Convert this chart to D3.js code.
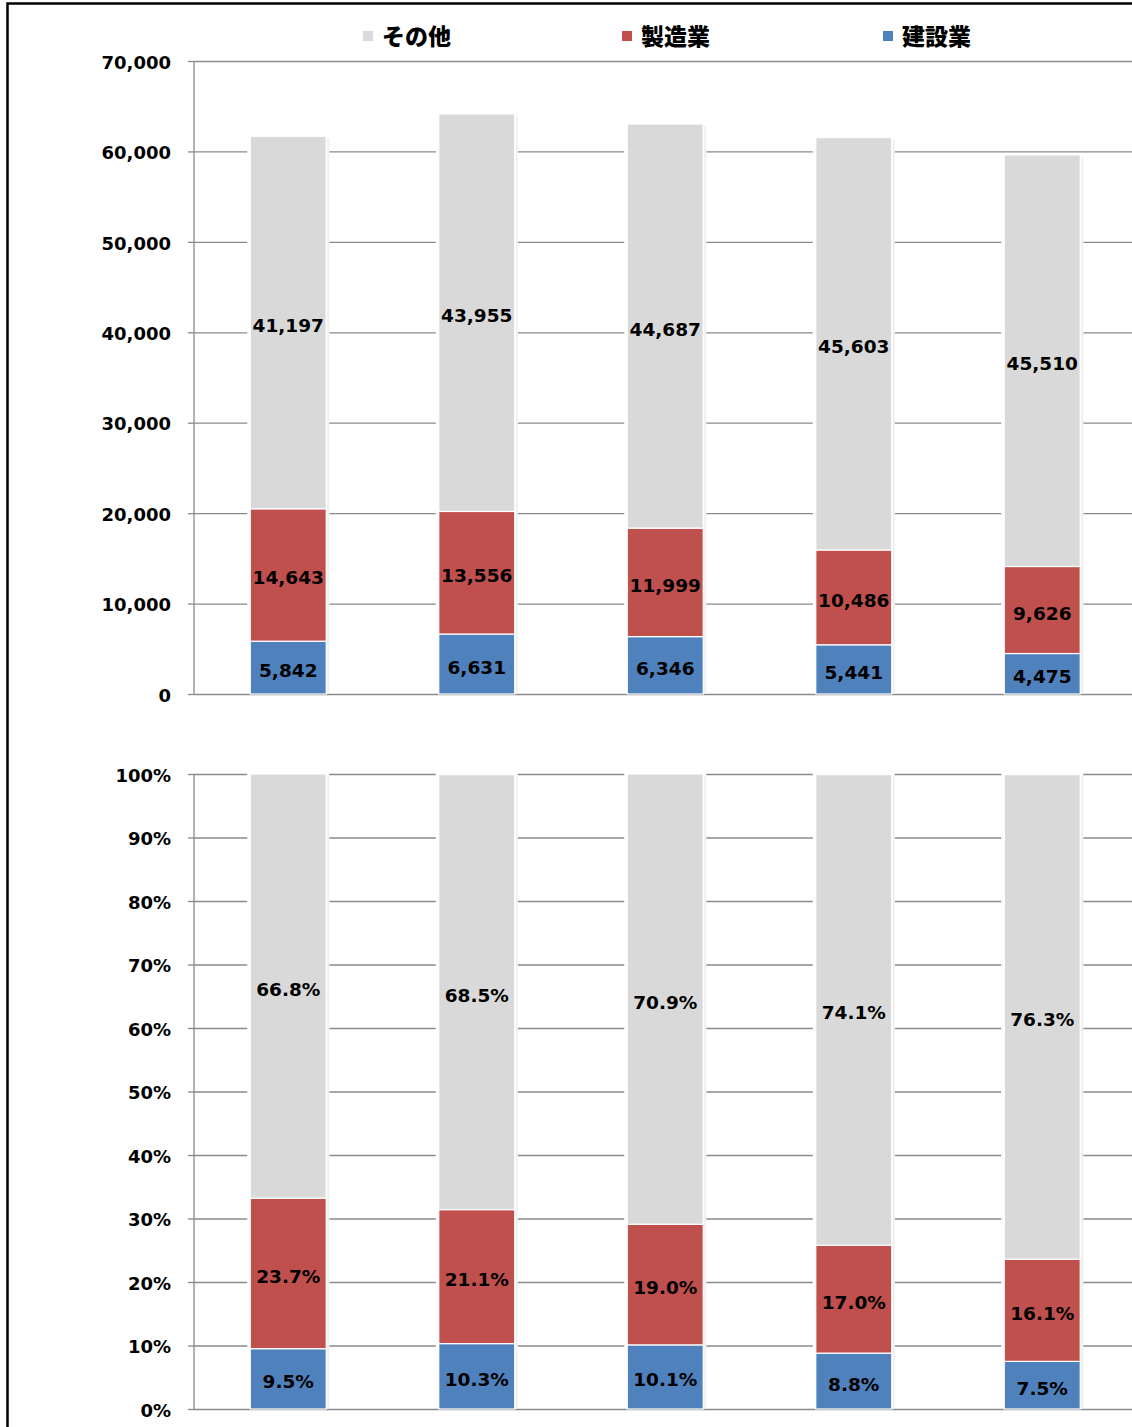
<!DOCTYPE html>
<html>
<head>
<meta charset="utf-8">
<script src="https://cdn.jsdelivr.net/npm/d3@7"></script>
<style>
  html, body { margin: 0; padding: 0; background: #fff; }
  svg { display: block; }
</style>
</head>
<body>
<svg id="chart" width="1132" height="1427"></svg>
<script>
// Five periods (no category labels are drawn on the axis)
const periods = ["1", "2", "3", "4", "5"];

// Counts by industry
const construction = [5842, 6631, 6346, 5441, 4475];      // 建設業
const manufacturing = [14643, 13556, 11999, 10486, 9626];  // 製造業
const others = [41197, 43955, 44687, 45603, 45510];        // その他

// Shares by industry (%)
const constructionPct = [9.5, 10.3, 10.1, 8.8, 7.5];
const manufacturingPct = [23.7, 21.1, 19.0, 17.0, 16.1];
const othersPct = [66.8, 68.5, 70.9, 74.1, 76.3];

// Tick values
const countTicks = [0, 10000, 20000, 30000, 40000, 50000, 60000, 70000];
const pctTicks = [0, 10, 20, 30, 40, 50, 60, 70, 80, 90, 100];

const seriesNames = ["その他", "製造業", "建設業"];
const colors = { "建設業": "#4f81bd", "製造業": "#c0504d", "その他": "#d9d9d9" };

const svg = d3.select("#chart");
const numFont = "'DejaVu Sans', sans-serif";
const jpFont = "'Noto Sans CJK JP', sans-serif";

// outer frame
svg.append("rect")
  .attr("x", 7.5).attr("y", 3.5)
  .attr("width", 1400).attr("height", 1600)
  .attr("fill", "none").attr("stroke", "#000").attr("stroke-width", 2.5);

// legend
const legendX = { "その他": 363, "製造業": 622, "建設業": 883 };
const legend = svg.append("g");
seriesNames.forEach(name => {
  legend.append("rect")
    .attr("x", legendX[name]).attr("y", 31)
    .attr("width", 10).attr("height", 10)
    .attr("fill", colors[name]);
  legend.append("text")
    .attr("x", legendX[name] + 19).attr("y", 35)
    .attr("dominant-baseline", "central")
    .attr("font-family", jpFont).attr("font-weight", 900)
    .attr("font-size", 23).attr("fill", "#000")
    .text(name);
});

const x = d3.scaleBand()
  .domain(periods)
  .range([194, 1136.5])
  .paddingInner(0.597)
  .paddingOuter(0.2985);

function drawPanel(opts) {
  const { top, bottom, yDomain, ticks, fmt, layers, labelFmt } = opts;
  const y = d3.scaleLinear().domain(yDomain).range([bottom, top]);
  const g = svg.append("g");

  // gridlines with short outside tick marks
  g.append("g")
    .attr("transform", "translate(194,0)")
    .call(d3.axisLeft(y).tickValues(ticks).tickSize(-1000).tickSizeOuter(0).tickFormat(""))
    .call(a => a.select(".domain").remove())
    .call(a => a.selectAll(".tick line").attr("stroke", "#8a8a8a").attr("stroke-width", 1.3));
  g.append("g")
    .attr("transform", "translate(194,0)")
    .call(d3.axisLeft(y).tickValues(ticks).tickSize(6).tickPadding(17).tickFormat(fmt))
    .call(a => a.select(".domain").attr("stroke", "#8a8a8a").attr("stroke-width", 1.3)
      .attr("d", `M0,${top}V${bottom}`))
    .call(a => a.selectAll(".tick line").attr("stroke", "#8a8a8a").attr("stroke-width", 1.3))
    .call(a => a.selectAll(".tick text")
      .attr("font-family", numFont).attr("font-weight", "bold")
      .attr("font-size", 18).attr("fill", "#000").attr("dy", "0.4em"));

  // stack data
  const rows = periods.map((p, i) => ({
    period: p,
    "建設業": layers["建設業"][i],
    "製造業": layers["製造業"][i],
    "その他": layers["その他"][i]
  }));
  const stack = d3.stack().keys(["建設業", "製造業", "その他"])(rows);
  const bw = x.bandwidth();

  // soft backing behind each bar (breaks gridlines and gives a faint edge)
  const totals = rows.map(r => r["建設業"] + r["製造業"] + r["その他"]);
  g.append("g").selectAll("rect")
    .data(periods)
    .join("rect")
    .attr("x", d => x(d) - 3)
    .attr("y", (d, i) => y(totals[i]) - 2)
    .attr("width", bw + 6)
    .attr("height", (d, i) => bottom - y(totals[i]) + 1)
    .attr("fill", "#fff");
  g.append("g").selectAll("rect")
    .data(periods)
    .join("rect")
    .attr("x", d => x(d) + bw + 1)
    .attr("y", (d, i) => y(totals[i]) + 2)
    .attr("width", 2)
    .attr("height", (d, i) => bottom - y(totals[i]) - 2)
    .attr("fill", "#efefef");

  stack.forEach(layer => {
    g.append("g").selectAll("rect")
      .data(layer)
      .join("rect")
      .attr("x", d => x(d.data.period))
      .attr("y", d => y(d[1]))
      .attr("width", bw)
      .attr("height", d => y(d[0]) - y(d[1]))
      .attr("fill", colors[layer.key])
      .attr("stroke", "#fff").attr("stroke-width", 1.2);
  });

  stack.forEach(layer => {
    g.append("g").selectAll("text")
      .data(layer)
      .join("text")
      .attr("x", d => x(d.data.period) + bw / 2)
      .attr("y", d => (y(d[0]) + y(d[1])) / 2 + 3)
      .attr("text-anchor", "middle")
      .attr("dominant-baseline", "central")
      .attr("font-family", numFont).attr("font-weight", "bold")
      .attr("font-size", 18.5).attr("fill", "#000")
      .text(d => labelFmt(d.data[layer.key]));
  });
}

drawPanel({
  top: 61, bottom: 694,
  yDomain: [0, 70000],
  ticks: countTicks,
  fmt: d3.format(","),
  layers: { "建設業": construction, "製造業": manufacturing, "その他": others },
  labelFmt: d3.format(",")
});

drawPanel({
  top: 774, bottom: 1409,
  yDomain: [0, 100],
  ticks: pctTicks,
  fmt: d => d + "%",
  layers: { "建設業": constructionPct, "製造業": manufacturingPct, "その他": othersPct },
  labelFmt: d => d.toFixed(1) + "%"
});
</script>
</body>
</html>
